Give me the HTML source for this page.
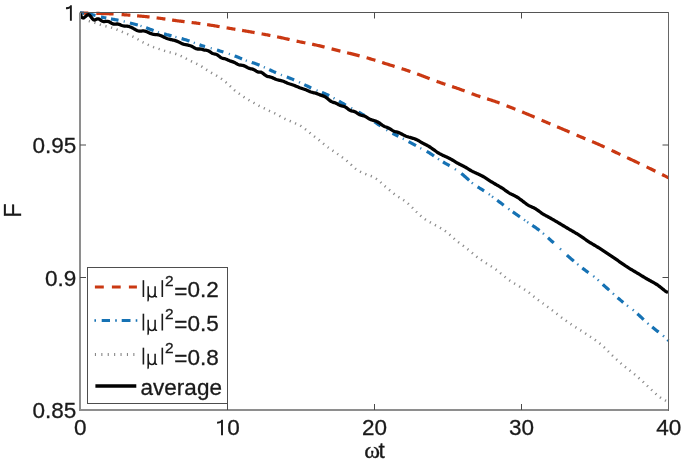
<!DOCTYPE html>
<html><head><meta charset="utf-8"><style>
html,body{margin:0;padding:0;background:#fff;}
svg{display:block;will-change:transform;}
text{font-family:"Liberation Sans",sans-serif;font-size:22.5px;fill:#1a1a1a;stroke:#1a1a1a;stroke-width:0.3px;}
</style></head><body>
<svg width="685" height="461" viewBox="0 0 685 461"><g style="opacity:0.995">
<rect width="685" height="461" fill="#fff"/>
<defs><clipPath id="c"><rect x="79.0" y="11.0" width="590.5" height="400.5"/></clipPath></defs>
<g clip-path="url(#c)">
<path d="M80.00,13.00 L80.92,13.02 L81.84,13.04 L82.77,13.07 L83.69,13.09 L84.61,13.11 L85.53,13.13 L86.46,13.15 L87.38,13.18 L88.30,13.20 M96.30,13.39 L97.26,13.42 L98.22,13.44 L99.18,13.46 L100.14,13.49 L101.11,13.51 L102.07,13.53 L103.03,13.56 L103.99,13.58 L104.95,13.61 L105.91,13.64 L106.87,13.67 L107.83,13.71 L108.79,13.74 L109.76,13.78 L110.72,13.82 L111.68,13.87 L112.64,13.92 L113.60,13.97 M121.60,14.55 L122.58,14.63 L123.56,14.71 L124.53,14.79 L125.51,14.87 L126.49,14.95 L127.47,15.03 L128.44,15.11 L129.42,15.19 L130.40,15.26 M137.10,15.81 L138.06,15.89 L139.02,15.98 L139.98,16.06 L140.95,16.15 L141.91,16.24 L142.87,16.33 L143.83,16.42 L144.79,16.52 L145.75,16.61 L146.72,16.71 L147.68,16.81 L148.64,16.92 L149.60,17.02 M156.60,17.86 L157.58,17.99 L158.56,18.12 L159.53,18.25 L160.51,18.39 L161.49,18.52 L162.47,18.66 L163.44,18.80 L164.42,18.94 L165.40,19.08 M172.10,20.06 L173.06,20.19 L174.02,20.33 L174.98,20.46 L175.95,20.59 L176.91,20.72 L177.87,20.85 L178.83,20.97 L179.79,21.09 L180.75,21.21 L181.72,21.33 L182.68,21.44 L183.64,21.56 L184.60,21.67 M191.60,22.48 L192.58,22.60 L193.56,22.72 L194.53,22.84 L195.51,22.96 L196.49,23.09 L197.47,23.22 L198.44,23.35 L199.42,23.48 L200.40,23.62 M207.10,24.61 L208.06,24.76 L209.02,24.91 L209.98,25.07 L210.95,25.22 L211.91,25.37 L212.87,25.53 L213.83,25.69 L214.79,25.84 L215.75,26.00 L216.72,26.16 L217.68,26.32 L218.64,26.48 L219.60,26.64 M226.60,27.82 L227.58,27.98 L228.56,28.15 L229.53,28.32 L230.51,28.48 L231.49,28.65 L232.47,28.81 L233.44,28.98 L234.42,29.14 L235.40,29.31 M242.10,30.45 L243.06,30.61 L244.02,30.77 L244.98,30.94 L245.95,31.10 L246.91,31.27 L247.87,31.43 L248.83,31.60 L249.79,31.76 L250.75,31.93 L251.72,32.09 L252.68,32.26 L253.64,32.43 L254.60,32.60 M261.60,33.85 L262.58,34.02 L263.56,34.20 L264.53,34.38 L265.51,34.57 L266.49,34.75 L267.47,34.93 L268.44,35.12 L269.42,35.31 L270.40,35.50 M277.10,36.84 L278.06,37.04 L279.02,37.24 L279.98,37.44 L280.95,37.64 L281.91,37.85 L282.87,38.06 L283.83,38.27 L284.79,38.48 L285.75,38.70 L286.72,38.91 L287.68,39.13 L288.64,39.34 L289.60,39.56 M296.60,41.13 L297.58,41.34 L298.56,41.55 L299.53,41.75 L300.51,41.96 L301.49,42.16 L302.47,42.36 L303.44,42.55 L304.42,42.74 L305.40,42.93 M312.10,44.24 L313.06,44.44 L314.02,44.63 L314.98,44.83 L315.95,45.03 L316.91,45.24 L317.87,45.45 L318.83,45.67 L319.79,45.89 L320.75,46.12 L321.72,46.35 L322.68,46.59 L323.64,46.83 L324.60,47.07 M331.60,48.88 L332.58,49.13 L333.56,49.39 L334.53,49.64 L335.51,49.89 L336.49,50.14 L337.47,50.38 L338.44,50.62 L339.42,50.87 L340.40,51.10 M347.10,52.72 L348.06,52.95 L349.02,53.19 L349.98,53.42 L350.95,53.66 L351.91,53.89 L352.87,54.13 L353.83,54.37 L354.79,54.61 L355.75,54.85 L356.72,55.10 L357.68,55.35 L358.64,55.60 L359.60,55.85 M366.60,57.77 L367.58,58.05 L368.56,58.33 L369.53,58.61 L370.51,58.90 L371.49,59.19 L372.47,59.49 L373.44,59.79 L374.42,60.09 L375.40,60.39 M382.10,62.50 L383.06,62.81 L384.02,63.12 L384.98,63.42 L385.95,63.73 L386.91,64.03 L387.87,64.34 L388.83,64.64 L389.79,64.94 L390.75,65.24 L391.72,65.54 L392.68,65.84 L393.64,66.13 L394.60,66.43 M401.60,68.62 L402.58,68.94 L403.56,69.25 L404.53,69.57 L405.51,69.89 L406.49,70.21 L407.47,70.54 L408.44,70.87 L409.42,71.20 L410.40,71.54 M417.10,73.91 L418.06,74.26 L419.02,74.62 L419.98,74.97 L420.95,75.33 L421.91,75.69 L422.87,76.06 L423.83,76.42 L424.79,76.79 L425.75,77.16 L426.72,77.53 L427.68,77.90 L428.64,78.27 L429.60,78.64 M436.60,81.30 L437.58,81.66 L438.56,82.01 L439.53,82.36 L440.51,82.71 L441.49,83.05 L442.47,83.38 L443.44,83.71 L444.42,84.04 L445.40,84.36 M452.10,86.54 L453.06,86.86 L454.02,87.18 L454.98,87.50 L455.95,87.83 L456.91,88.16 L457.87,88.49 L458.83,88.83 L459.79,89.18 L460.75,89.53 L461.72,89.89 L462.68,90.25 L463.64,90.61 L464.60,90.98 M471.60,93.63 L472.58,94.00 L473.56,94.35 L474.53,94.70 L475.51,95.05 L476.49,95.39 L477.47,95.72 L478.44,96.05 L479.42,96.37 L480.40,96.69 M487.10,98.81 L488.06,99.11 L489.02,99.42 L489.98,99.73 L490.95,100.04 L491.91,100.36 L492.87,100.68 L493.83,101.01 L494.79,101.34 L495.75,101.68 L496.72,102.02 L497.68,102.37 L498.64,102.72 L499.60,103.08 M506.60,105.77 L507.58,106.16 L508.56,106.54 L509.53,106.93 L510.51,107.32 L511.49,107.71 L512.47,108.09 L513.44,108.48 L514.42,108.87 L515.40,109.25 M522.10,111.93 L523.06,112.32 L524.02,112.71 L524.98,113.11 L525.95,113.50 L526.91,113.90 L527.87,114.30 L528.83,114.70 L529.79,115.11 L530.75,115.51 L531.72,115.92 L532.68,116.33 L533.64,116.74 L534.60,117.16 M541.60,120.18 L542.58,120.61 L543.56,121.03 L544.53,121.45 L545.51,121.87 L546.49,122.29 L547.47,122.70 L548.44,123.12 L549.42,123.53 L550.40,123.94 M557.10,126.76 L558.06,127.16 L559.02,127.57 L559.98,127.97 L560.95,128.38 L561.91,128.79 L562.87,129.19 L563.83,129.60 L564.79,130.02 L565.75,130.43 L566.72,130.84 L567.68,131.25 L568.64,131.67 L569.60,132.08 M576.60,135.10 L577.58,135.52 L578.56,135.94 L579.53,136.35 L580.51,136.76 L581.49,137.17 L582.47,137.58 L583.44,137.99 L584.42,138.40 L585.40,138.80 M592.10,141.59 L593.06,141.99 L594.02,142.40 L594.98,142.81 L595.95,143.22 L596.91,143.64 L597.87,144.06 L598.83,144.48 L599.79,144.91 L600.75,145.34 L601.72,145.78 L602.68,146.22 L603.64,146.66 L604.60,147.10 M611.60,150.39 L612.58,150.86 L613.56,151.32 L614.53,151.78 L615.51,152.25 L616.49,152.71 L617.47,153.17 L618.44,153.63 L619.42,154.08 L620.40,154.54 M627.10,157.66 L628.06,158.11 L629.02,158.56 L629.98,159.01 L630.95,159.46 L631.91,159.91 L632.87,160.36 L633.83,160.81 L634.79,161.26 L635.75,161.72 L636.72,162.17 L637.68,162.63 L638.64,163.08 L639.60,163.54 M646.60,166.91 L647.58,167.38 L648.56,167.86 L649.53,168.33 L650.51,168.81 L651.49,169.29 L652.47,169.77 L653.44,170.25 L654.42,170.73 L655.40,171.22 M662.10,174.55 L663.01,175.01 L663.93,175.47 L664.84,175.93 L665.76,176.40 L666.67,176.86 L667.59,177.32 L668.50,177.79" stroke="#CA3812" stroke-width="3.2" fill="none"/>
<path d="M80.00,12.75 L81.00,12.87 L82.00,12.99 L83.00,13.12 L84.00,13.25 M88.00,13.86 L88.94,14.03 L89.88,14.22 L90.81,14.41 L91.75,14.62 L92.69,14.83 L93.62,15.06 L94.56,15.28 L95.50,15.52 M101.00,16.90 L101.88,17.12 L102.77,17.32 L103.65,17.52 L104.53,17.72 L105.42,17.90 L106.30,18.08 M111.00,18.95 L111.94,19.11 L112.88,19.27 L113.81,19.43 L114.75,19.60 L115.69,19.76 L116.62,19.93 L117.56,20.10 L118.50,20.28 M129.90,22.96 L130.89,23.23 L131.88,23.50 L132.86,23.77 L133.85,24.03 L134.84,24.29 L135.83,24.55 L136.81,24.81 L137.80,25.07 M146.10,27.74 L147.04,28.09 L147.97,28.45 L148.91,28.80 L149.85,29.16 L150.79,29.51 L151.72,29.86 L152.66,30.21 L153.60,30.56 M164.00,33.90 L164.94,34.16 L165.88,34.41 L166.81,34.67 L167.75,34.92 L168.69,35.17 L169.62,35.42 L170.56,35.66 L171.50,35.91 M181.60,38.60 L182.59,38.88 L183.57,39.17 L184.56,39.47 L185.55,39.77 L186.54,40.09 L187.53,40.42 L188.51,40.75 L189.50,41.09 M199.50,44.81 L200.42,45.13 L201.33,45.45 L202.25,45.76 L203.17,46.05 L204.08,46.33 L205.00,46.60 M217.00,50.05 L217.91,50.33 L218.83,50.62 L219.74,50.91 L220.66,51.20 L221.57,51.49 L222.49,51.78 L223.40,52.07 M234.60,55.89 L235.53,56.24 L236.45,56.60 L237.38,56.97 L238.30,57.34 L239.22,57.73 L240.15,58.12 L241.07,58.52 L242.00,58.91 M251.70,62.41 L252.67,62.72 L253.65,63.03 L254.62,63.35 L255.60,63.68 L256.57,64.03 L257.55,64.40 L258.52,64.78 L259.50,65.18 M269.20,69.59 L270.17,70.05 L271.14,70.51 L272.11,70.96 L273.09,71.41 L274.06,71.86 L275.03,72.30 L276.00,72.73 M286.80,77.01 L287.71,77.35 L288.62,77.69 L289.54,78.04 L290.45,78.39 L291.36,78.76 L292.28,79.14 L293.19,79.53 L294.10,79.92 M304.30,84.66 L305.29,85.13 L306.27,85.60 L307.26,86.07 L308.24,86.55 L309.23,87.02 L310.21,87.49 L311.20,87.95 M321.90,92.47 L322.81,92.83 L323.72,93.20 L324.64,93.58 L325.55,93.97 L326.46,94.37 L327.38,94.79 L328.29,95.23 L329.20,95.68 M338.90,101.12 L339.89,101.71 L340.87,102.29 L341.86,102.87 L342.84,103.43 L343.83,103.99 L344.81,104.54 L345.80,105.09 M358.50,112.06 L359.50,112.63 L360.50,113.20 L361.50,113.78 L362.50,114.36 L363.50,114.95 L364.50,115.54 M374.50,121.83 L375.50,122.50 L376.50,123.18 L377.50,123.87 L378.50,124.57 L379.50,125.27 L380.50,125.97 M392.50,133.28 L393.48,133.78 L394.47,134.27 L395.45,134.77 L396.43,135.26 L397.42,135.76 L398.40,136.26 M408.60,141.57 L409.53,142.07 L410.45,142.57 L411.38,143.08 L412.30,143.60 L413.23,144.12 L414.15,144.64 L415.07,145.17 L416.00,145.70 M426.70,151.44 L427.61,151.94 L428.52,152.45 L429.44,152.99 L430.35,153.55 L431.26,154.14 L432.18,154.75 L433.09,155.38 L434.00,156.02 M443.00,161.96 L443.94,162.50 L444.89,163.05 L445.83,163.58 L446.77,164.12 L447.71,164.66 L448.66,165.20 L449.60,165.75 M461.30,173.53 L462.28,174.30 L463.25,175.10 L464.23,175.92 L465.20,176.76 L466.18,177.63 L467.15,178.52 L468.12,179.42 L469.10,180.31 M477.60,186.86 L478.53,187.44 L479.46,188.01 L480.39,188.58 L481.31,189.14 L482.24,189.71 L483.17,190.29 L484.10,190.87 M497.20,200.28 L498.13,200.97 L499.06,201.67 L499.99,202.37 L500.91,203.07 L501.84,203.77 L502.77,204.47 L503.70,205.17 M512.80,211.86 L513.69,212.49 L514.57,213.12 L515.46,213.75 L516.35,214.37 L517.24,214.99 L518.12,215.61 L519.01,216.22 L519.90,216.84 M532.30,225.34 L533.20,225.95 L534.10,226.56 L535.00,227.18 L535.90,227.81 L536.80,228.46 L537.70,229.13 L538.60,229.81 L539.50,230.50 M548.00,237.75 L548.95,238.61 L549.90,239.47 L550.85,240.34 L551.80,241.20 L552.75,242.06 L553.70,242.91 M566.90,255.09 L567.89,256.00 L568.87,256.89 L569.86,257.77 L570.84,258.64 L571.83,259.49 L572.81,260.32 L573.80,261.14 M582.30,268.00 L583.19,268.69 L584.07,269.37 L584.96,270.04 L585.84,270.69 L586.73,271.34 L587.61,271.97 L588.50,272.60 M602.80,284.41 L603.71,285.25 L604.63,286.08 L605.54,286.91 L606.46,287.72 L607.37,288.53 L608.29,289.35 L609.20,290.17 M617.60,297.67 L618.55,298.49 L619.50,299.30 L620.45,300.10 L621.40,300.90 L622.35,301.69 L623.30,302.47 M637.40,313.71 L638.30,314.55 L639.20,315.40 L640.10,316.25 L641.00,317.10 L641.90,317.96 L642.80,318.81 L643.70,319.65 M652.20,327.09 L653.11,327.82 L654.03,328.55 L654.94,329.26 L655.86,329.97 L656.77,330.67 L657.69,331.37 L658.60,332.07 M667.50,339.60 L668.50,340.53" stroke="#1672B4" stroke-width="3.2" fill="none"/>
<path d="M123.65,21.35 L124.20,21.48 L124.75,21.61 M140.45,25.82 L140.82,25.93 L141.18,26.04 L141.55,26.16 M157.85,32.05 L158.22,32.17 L158.58,32.29 L158.95,32.41 M175.35,36.92 L175.72,37.02 L176.08,37.12 L176.45,37.21 M193.75,42.64 L194.12,42.78 L194.48,42.92 L194.85,43.06 M210.65,48.16 L211.02,48.26 L211.38,48.36 L211.75,48.47 M228.75,53.81 L229.12,53.94 L229.48,54.06 L229.85,54.19 M245.75,60.44 L246.12,60.57 L246.48,60.71 L246.85,60.84 M263.75,67.04 L264.12,67.21 L264.48,67.38 L264.85,67.55 M280.85,74.78 L281.22,74.92 L281.58,75.07 L281.95,75.21 M298.95,82.12 L299.32,82.29 L299.68,82.46 L300.05,82.64 M316.45,90.31 L316.82,90.46 L317.18,90.61 L317.55,90.76 M333.45,97.94 L333.82,98.15 L334.18,98.36 L334.55,98.57 M351.05,107.94 L351.42,108.14 L351.78,108.34 L352.15,108.54 M368.45,117.94 L368.82,118.17 L369.18,118.40 L369.55,118.63 M386.35,129.88 L386.72,130.10 L387.08,130.32 L387.45,130.54 M402.75,138.49 L403.12,138.68 L403.48,138.87 L403.85,139.07 M420.25,148.08 L420.62,148.27 L420.98,148.47 L421.35,148.66 M437.95,158.80 L438.32,159.05 L438.68,159.29 L439.05,159.53 M454.85,168.96 L455.22,169.20 L455.58,169.44 L455.95,169.68 M471.75,182.64 L472.12,182.95 L472.48,183.24 L472.85,183.54 M488.75,193.95 L489.12,194.21 L489.48,194.48 L489.85,194.75 M492.05,196.40 L492.42,196.68 L492.78,196.95 L493.15,197.23 M508.35,208.65 L508.72,208.92 L509.08,209.18 L509.45,209.45 M523.95,219.66 L524.50,220.04 L525.05,220.43 M527.15,221.89 L527.70,222.26 L528.25,222.64 M542.85,233.22 L543.40,233.68 L543.95,234.15 M559.95,248.60 L560.50,249.11 L561.05,249.62 M577.25,263.96 L577.80,264.40 L578.35,264.85 M593.25,276.02 L593.80,276.44 L594.35,276.87 M597.65,279.61 L598.20,280.10 L598.75,280.60 M612.85,293.47 L613.40,293.97 L613.95,294.46 M626.95,305.35 L627.50,305.76 L628.05,306.17 M632.65,309.61 L633.20,310.05 L633.75,310.50 M647.45,323.08 L648.00,323.57 L648.55,324.05 M662.95,335.54 L663.50,336.01 L664.05,336.48" stroke="#1672B4" stroke-width="2.4" fill="none" opacity="0.85"/>
<path d="M80.00,13.66 L80.75,14.55 L81.50,15.44 L82.25,16.29 L83.00,17.11 L83.75,17.87 L84.50,18.56 L85.25,19.16 L86.00,19.68 L86.75,20.10 L87.50,20.46 L88.25,20.76 L89.00,21.01 L89.75,21.23 L90.50,21.44 L91.25,21.64 L92.00,21.85 L92.75,22.07 L93.50,22.30 L94.25,22.54 L95.00,22.79 L95.75,23.05 L96.50,23.32 L97.25,23.60 L98.00,23.88 L98.75,24.15 L99.50,24.43 L100.25,24.70 L101.00,24.96 L101.75,25.21 L102.50,25.44 L103.25,25.66 L104.00,25.85 L104.75,26.03 L105.50,26.20 L106.25,26.35 L107.00,26.51 L107.75,26.66 L108.50,26.82 L109.25,26.99 L110.00,27.18 L110.75,27.37 L111.50,27.59 L112.25,27.81 L113.00,28.05 L113.75,28.31 L114.50,28.58 L115.25,28.87 L116.00,29.17 L116.75,29.49 L117.50,29.81 L118.25,30.14 L119.00,30.47 L119.75,30.80 L120.50,31.13 L121.25,31.45 L122.00,31.76 L122.75,32.07 L123.50,32.38 L124.25,32.68 L125.00,32.99 L125.75,33.31 L126.50,33.63 L127.25,33.97 L128.00,34.31 L128.75,34.66 L129.50,35.02 L130.25,35.38 L131.00,35.74 L131.75,36.11 L132.50,36.47 L133.25,36.84 L134.00,37.22 L134.75,37.60 L135.50,38.00 L136.25,38.41 L137.00,38.84 L137.75,39.29 L138.50,39.76 L139.25,40.22 L140.00,40.67 L140.75,41.11 L141.50,41.53 L142.25,41.94 L143.00,42.33 L143.75,42.71 L144.50,43.08 L145.25,43.44 L146.00,43.81 L146.75,44.18 L147.50,44.54 L148.25,44.90 L149.00,45.25 L149.75,45.60 L150.50,45.93 L151.25,46.24 L152.00,46.54 L152.75,46.83 L153.50,47.11 L154.25,47.37 L155.00,47.64 L155.75,47.89 L156.50,48.14 L157.25,48.40 L158.00,48.65 L158.75,48.90 L159.50,49.15 L160.25,49.40 L161.00,49.65 L161.75,49.90 L162.50,50.14 L163.25,50.39 L164.00,50.63 L164.75,50.87 L165.50,51.10 L166.25,51.33 L167.00,51.55 L167.75,51.76 L168.50,51.97 L169.25,52.16 L170.00,52.36 L170.75,52.55 L171.50,52.73 L172.25,52.92 L173.00,53.12 L173.75,53.32 L174.50,53.54 L175.25,53.76 L176.00,54.00 L176.75,54.25 L177.50,54.52 L178.25,54.80 L179.00,55.09 L179.75,55.40 L180.50,55.73 L181.25,56.07 L182.00,56.44 L182.75,56.81 L183.50,57.20 L184.25,57.59 L185.00,57.99 L185.75,58.40 L186.50,58.80 L187.25,59.20 L188.00,59.60 L188.75,60.00 L189.50,60.39 L190.25,60.77 L191.00,61.14 L191.75,61.50 L192.50,61.84 L193.25,62.18 L194.00,62.52 L194.75,62.86 L195.50,63.20 L196.25,63.55 L197.00,63.91 L197.75,64.29 L198.50,64.69 L199.25,65.10 L200.00,65.53 L200.75,65.97 L201.50,66.42 L202.25,66.89 L203.00,67.38 L203.75,67.87 L204.50,68.37 L205.25,68.88 L206.00,69.38 L206.75,69.87 L207.50,70.35 L208.25,70.82 L209.00,71.28 L209.75,71.73 L210.50,72.18 L211.25,72.61 L212.00,73.05 L212.75,73.48 L213.50,73.91 L214.25,74.34 L215.00,74.77 L215.75,75.21 L216.50,75.66 L217.25,76.11 L218.00,76.58 L218.75,77.06 L219.50,77.55 L220.25,78.05 L221.00,78.57 L221.75,79.09 L222.50,79.64 L223.25,80.19 L224.00,80.77 L224.75,81.36 L225.50,81.97 L226.25,82.60 L227.00,83.25 L227.75,83.92 L228.50,84.60 L229.25,85.30 L230.00,86.00 L230.75,86.71 L231.50,87.43 L232.25,88.14 L233.00,88.84 L233.75,89.52 L234.50,90.18 L235.25,90.81 L236.00,91.40 L236.75,91.98 L237.50,92.53 L238.25,93.07 L239.00,93.60 L239.75,94.13 L240.50,94.66 L241.25,95.19 L242.00,95.72 L242.75,96.25 L243.50,96.76 L244.25,97.27 L245.00,97.76 L245.75,98.23 L246.50,98.68 L247.25,99.12 L248.00,99.55 L248.75,99.98 L249.50,100.40 L250.25,100.82 L251.00,101.24 L251.75,101.67 L252.50,102.11 L253.25,102.55 L254.00,102.99 L254.75,103.42 L255.50,103.86 L256.25,104.29 L257.00,104.72 L257.75,105.14 L258.50,105.55 L259.25,105.95 L260.00,106.34 L260.75,106.72 L261.50,107.09 L262.25,107.45 L263.00,107.79 L263.75,108.14 L264.50,108.49 L265.25,108.84 L266.00,109.20 L266.75,109.57 L267.50,109.94 L268.25,110.31 L269.00,110.68 L269.75,111.05 L270.50,111.40 L271.25,111.75 L272.00,112.10 L272.75,112.44 L273.50,112.78 L274.25,113.13 L275.00,113.49 L275.75,113.85 L276.50,114.22 L277.25,114.61 L278.00,115.00 L278.75,115.40 L279.50,115.81 L280.25,116.23 L281.00,116.66 L281.75,117.10 L282.50,117.53 L283.25,117.95 L284.00,118.37 L284.75,118.76 L285.50,119.13 L286.25,119.48 L287.00,119.80 L287.75,120.10 L288.50,120.40 L289.25,120.69 L290.00,120.99 L290.75,121.29 L291.50,121.61 L292.25,121.93 L293.00,122.27 L293.75,122.61 L294.50,122.95 L295.25,123.29 L296.00,123.62 L296.75,123.95 L297.50,124.28 L298.25,124.62 L299.00,124.98 L299.75,125.37 L300.50,125.80 L301.25,126.27 L302.00,126.78 L302.75,127.31 L303.50,127.87 L304.25,128.43 L305.00,129.00 L305.75,129.58 L306.50,130.16 L307.25,130.75 L308.00,131.35 L308.75,131.96 L309.50,132.58 L310.25,133.20 L311.00,133.83 L311.75,134.45 L312.50,135.06 L313.25,135.66 L314.00,136.23 L314.75,136.79 L315.50,137.34 L316.25,137.89 L317.00,138.45 L317.75,139.03 L318.50,139.63 L319.25,140.24 L320.00,140.86 L320.75,141.49 L321.50,142.12 L322.25,142.75 L323.00,143.38 L323.75,144.01 L324.50,144.63 L325.25,145.25 L326.00,145.85 L326.75,146.45 L327.50,147.03 L328.25,147.60 L329.00,148.15 L329.75,148.68 L330.50,149.20 L331.25,149.69 L332.00,150.18 L332.75,150.65 L333.50,151.13 L334.25,151.61 L335.00,152.09 L335.75,152.59 L336.50,153.11 L337.25,153.64 L338.00,154.18 L338.75,154.73 L339.50,155.28 L340.25,155.83 L341.00,156.39 L341.75,156.94 L342.50,157.50 L343.25,158.06 L344.00,158.63 L344.75,159.20 L345.50,159.79 L346.25,160.38 L347.00,160.99 L347.75,161.62 L348.50,162.26 L349.25,162.92 L350.00,163.61 L350.75,164.31 L351.50,165.03 L352.25,165.76 L353.00,166.47 L353.75,167.16 L354.50,167.82 L355.25,168.45 L356.00,169.03 L356.75,169.57 L357.50,170.06 L358.25,170.52 L359.00,170.94 L359.75,171.35 L360.50,171.74 L361.25,172.11 L362.00,172.48 L362.75,172.83 L363.50,173.17 L364.25,173.50 L365.00,173.82 L365.75,174.12 L366.50,174.41 L367.25,174.68 L368.00,174.95 L368.75,175.21 L369.50,175.48 L370.25,175.75 L371.00,176.03 L371.75,176.33 L372.50,176.64 L373.25,176.98 L374.00,177.35 L374.75,177.75 L375.50,178.20 L376.25,178.69 L377.00,179.22 L377.75,179.79 L378.50,180.39 L379.25,181.02 L380.00,181.68 L380.75,182.36 L381.50,183.05 L382.25,183.74 L383.00,184.44 L383.75,185.13 L384.50,185.81 L385.25,186.47 L386.00,187.12 L386.75,187.77 L387.50,188.41 L388.25,189.04 L389.00,189.68 L389.75,190.31 L390.50,190.94 L391.25,191.56 L392.00,192.19 L392.75,192.81 L393.50,193.42 L394.25,194.01 L395.00,194.59 L395.75,195.14 L396.50,195.67 L397.25,196.17 L398.00,196.64 L398.75,197.10 L399.50,197.56 L400.25,198.00 L401.00,198.46 L401.75,198.92 L402.50,199.40 L403.25,199.90 L404.00,200.41 L404.75,200.94 L405.50,201.49 L406.25,202.06 L407.00,202.66 L407.75,203.29 L408.50,203.94 L409.25,204.61 L410.00,205.31 L410.75,206.04 L411.50,206.79 L412.25,207.56 L413.00,208.35 L413.75,209.13 L414.50,209.92 L415.25,210.70 L416.00,211.48 L416.75,212.24 L417.50,212.98 L418.25,213.69 L419.00,214.38 L419.75,215.05 L420.50,215.68 L421.25,216.30 L422.00,216.91 L422.75,217.50 L423.50,218.08 L424.25,218.64 L425.00,219.18 L425.75,219.71 L426.50,220.20 L427.25,220.67 L428.00,221.12 L428.75,221.55 L429.50,221.96 L430.25,222.37 L431.00,222.77 L431.75,223.18 L432.50,223.59 L433.25,224.01 L434.00,224.43 L434.75,224.86 L435.50,225.29 L436.25,225.71 L437.00,226.13 L437.75,226.55 L438.50,226.96 L439.25,227.36 L440.00,227.77 L440.75,228.19 L441.50,228.62 L442.25,229.06 L443.00,229.52 L443.75,230.00 L444.50,230.51 L445.25,231.03 L446.00,231.58 L446.75,232.15 L447.50,232.75 L448.25,233.37 L449.00,234.01 L449.75,234.68 L450.50,235.35 L451.25,236.04 L452.00,236.73 L452.75,237.42 L453.50,238.12 L454.25,238.80 L455.00,239.47 L455.75,240.13 L456.50,240.76 L457.25,241.37 L458.00,241.95 L458.75,242.52 L459.50,243.08 L460.25,243.62 L461.00,244.16 L461.75,244.70 L462.50,245.23 L463.25,245.77 L464.00,246.31 L464.75,246.86 L465.50,247.42 L466.25,248.00 L467.00,248.58 L467.75,249.18 L468.50,249.79 L469.25,250.42 L470.00,251.05 L470.75,251.69 L471.50,252.33 L472.25,252.98 L473.00,253.62 L473.75,254.26 L474.50,254.89 L475.25,255.51 L476.00,256.12 L476.75,256.70 L477.50,257.27 L478.25,257.82 L479.00,258.36 L479.75,258.89 L480.50,259.41 L481.25,259.93 L482.00,260.44 L482.75,260.95 L483.50,261.46 L484.25,261.96 L485.00,262.45 L485.75,262.94 L486.50,263.43 L487.25,263.91 L488.00,264.38 L488.75,264.85 L489.50,265.32 L490.25,265.79 L491.00,266.26 L491.75,266.74 L492.50,267.22 L493.25,267.70 L494.00,268.20 L494.75,268.70 L495.50,269.22 L496.25,269.76 L497.00,270.32 L497.75,270.90 L498.50,271.50 L499.25,272.12 L500.00,272.75 L500.75,273.38 L501.50,274.02 L502.25,274.65 L503.00,275.28 L503.75,275.90 L504.50,276.52 L505.25,277.13 L506.00,277.73 L506.75,278.33 L507.50,278.91 L508.25,279.48 L509.00,280.03 L509.75,280.57 L510.50,281.09 L511.25,281.59 L512.00,282.07 L512.75,282.53 L513.50,282.98 L514.25,283.41 L515.00,283.84 L515.75,284.27 L516.50,284.70 L517.25,285.13 L518.00,285.58 L518.75,286.02 L519.50,286.47 L520.25,286.92 L521.00,287.36 L521.75,287.81 L522.50,288.25 L523.25,288.70 L524.00,289.15 L524.75,289.62 L525.50,290.10 L526.25,290.60 L527.00,291.13 L527.75,291.68 L528.50,292.26 L529.25,292.85 L530.00,293.45 L530.75,294.07 L531.50,294.68 L532.25,295.29 L533.00,295.90 L533.75,296.50 L534.50,297.10 L535.25,297.69 L536.00,298.27 L536.75,298.84 L537.50,299.41 L538.25,299.96 L539.00,300.52 L539.75,301.07 L540.50,301.61 L541.25,302.16 L542.00,302.71 L542.75,303.25 L543.50,303.80 L544.25,304.35 L545.00,304.90 L545.75,305.46 L546.50,306.02 L547.25,306.58 L548.00,307.15 L548.75,307.72 L549.50,308.29 L550.25,308.86 L551.00,309.43 L551.75,309.99 L552.50,310.55 L553.25,311.11 L554.00,311.66 L554.75,312.22 L555.50,312.79 L556.25,313.36 L557.00,313.95 L557.75,314.54 L558.50,315.13 L559.25,315.73 L560.00,316.32 L560.75,316.91 L561.50,317.48 L562.25,318.04 L563.00,318.58 L563.75,319.11 L564.50,319.63 L565.25,320.15 L566.00,320.66 L566.75,321.18 L567.50,321.69 L568.25,322.22 L569.00,322.76 L569.75,323.30 L570.50,323.85 L571.25,324.39 L572.00,324.92 L572.75,325.44 L573.50,325.96 L574.25,326.45 L575.00,326.94 L575.75,327.41 L576.50,327.88 L577.25,328.34 L578.00,328.79 L578.75,329.25 L579.50,329.70 L580.25,330.15 L581.00,330.61 L581.75,331.07 L582.50,331.54 L583.25,332.01 L584.00,332.49 L584.75,332.97 L585.50,333.46 L586.25,333.95 L587.00,334.45 L587.75,334.94 L588.50,335.43 L589.25,335.92 L590.00,336.42 L590.75,336.92 L591.50,337.42 L592.25,337.93 L593.00,338.44 L593.75,338.97 L594.50,339.50 L595.25,340.05 L596.00,340.60 L596.75,341.15 L597.50,341.71 L598.25,342.28 L599.00,342.85 L599.75,343.43 L600.50,344.02 L601.25,344.64 L602.00,345.27 L602.75,345.93 L603.50,346.62 L604.25,347.34 L605.00,348.08 L605.75,348.83 L606.50,349.59 L607.25,350.36 L608.00,351.12 L608.75,351.89 L609.50,352.65 L610.25,353.40 L611.00,354.14 L611.75,354.88 L612.50,355.61 L613.25,356.32 L614.00,357.04 L614.75,357.74 L615.50,358.45 L616.25,359.16 L617.00,359.86 L617.75,360.56 L618.50,361.25 L619.25,361.94 L620.00,362.62 L620.75,363.29 L621.50,363.95 L622.25,364.59 L623.00,365.23 L623.75,365.85 L624.50,366.46 L625.25,367.05 L626.00,367.63 L626.75,368.20 L627.50,368.77 L628.25,369.33 L629.00,369.89 L629.75,370.46 L630.50,371.03 L631.25,371.61 L632.00,372.20 L632.75,372.80 L633.50,373.42 L634.25,374.05 L635.00,374.70 L635.75,375.36 L636.50,376.02 L637.25,376.68 L638.00,377.34 L638.75,378.00 L639.50,378.65 L640.25,379.30 L641.00,379.96 L641.75,380.63 L642.50,381.30 L643.25,381.99 L644.00,382.69 L644.75,383.40 L645.50,384.11 L646.25,384.83 L647.00,385.55 L647.75,386.27 L648.50,386.99 L649.25,387.71 L650.00,388.43 L650.75,389.15 L651.50,389.86 L652.25,390.57 L653.00,391.27 L653.75,391.97 L654.50,392.65 L655.25,393.33 L656.00,394.00 L656.75,394.65 L657.50,395.29 L658.25,395.91 L659.00,396.51 L659.75,397.07 L660.50,397.61 L661.25,398.12 L662.00,398.60 L662.75,399.05 L663.50,399.49 L664.25,399.91 L665.00,400.31 L665.75,400.71 L666.50,401.09 L667.25,401.47 L668.00,401.85" stroke="#8c8c8c" stroke-width="2.5" fill="none" stroke-dasharray="1.2 4.6"/>
<path d="M80.00,13.50 L80.75,15.57 L81.50,16.92 L82.25,17.66 L83.00,17.91 L83.75,17.76 L84.50,17.33 L85.25,16.73 L86.00,16.06 L86.75,15.43 L87.50,14.95 L88.25,14.73 L89.00,14.88 L89.75,15.42 L90.50,16.25 L91.25,17.23 L92.00,18.23 L92.75,19.11 L93.50,19.76 L94.25,20.05 L95.00,19.94 L95.75,19.60 L96.50,19.18 L97.25,18.86 L98.00,18.78 L98.75,18.96 L99.50,19.33 L100.25,19.82 L101.00,20.36 L101.75,20.87 L102.50,21.28 L103.25,21.53 L104.00,21.61 L104.75,21.57 L105.50,21.48 L106.25,21.37 L107.00,21.32 L107.75,21.36 L108.50,21.54 L109.25,21.86 L110.00,22.28 L110.75,22.73 L111.50,23.19 L112.25,23.60 L113.00,23.91 L113.75,24.09 L114.50,24.14 L115.25,24.10 L116.00,24.03 L116.75,23.98 L117.50,23.98 L118.25,24.09 L119.00,24.30 L119.75,24.58 L120.50,24.89 L121.25,25.22 L122.00,25.52 L122.75,25.76 L123.50,25.93 L124.25,26.02 L125.00,26.07 L125.75,26.10 L126.50,26.13 L127.25,26.19 L128.00,26.31 L128.75,26.48 L129.50,26.70 L130.25,26.97 L131.00,27.27 L131.75,27.62 L132.50,28.00 L133.25,28.41 L134.00,28.83 L134.75,29.26 L135.50,29.68 L136.25,30.07 L137.00,30.43 L137.75,30.73 L138.50,30.97 L139.25,31.13 L140.00,31.20 L140.75,31.17 L141.50,31.08 L142.25,30.98 L143.00,30.91 L143.75,30.91 L144.50,31.02 L145.25,31.21 L146.00,31.46 L146.75,31.76 L147.50,32.10 L148.25,32.45 L149.00,32.79 L149.75,33.12 L150.50,33.42 L151.25,33.69 L152.00,33.94 L152.75,34.15 L153.50,34.31 L154.25,34.44 L155.00,34.52 L155.75,34.58 L156.50,34.64 L157.25,34.71 L158.00,34.82 L158.75,34.98 L159.50,35.20 L160.25,35.47 L161.00,35.78 L161.75,36.11 L162.50,36.46 L163.25,36.81 L164.00,37.16 L164.75,37.51 L165.50,37.84 L166.25,38.15 L167.00,38.45 L167.75,38.72 L168.50,38.96 L169.25,39.17 L170.00,39.36 L170.75,39.54 L171.50,39.70 L172.25,39.86 L173.00,40.03 L173.75,40.21 L174.50,40.40 L175.25,40.61 L176.00,40.84 L176.75,41.11 L177.50,41.41 L178.25,41.76 L179.00,42.13 L179.75,42.52 L180.50,42.90 L181.25,43.27 L182.00,43.60 L182.75,43.89 L183.50,44.13 L184.25,44.34 L185.00,44.52 L185.75,44.68 L186.50,44.84 L187.25,44.99 L188.00,45.15 L188.75,45.33 L189.50,45.53 L190.25,45.76 L191.00,46.02 L191.75,46.33 L192.50,46.70 L193.25,47.12 L194.00,47.56 L194.75,48.00 L195.50,48.40 L196.25,48.71 L197.00,48.92 L197.75,49.00 L198.50,49.01 L199.25,48.99 L200.00,49.00 L200.75,49.09 L201.50,49.24 L202.25,49.44 L203.00,49.65 L203.75,49.85 L204.50,50.03 L205.25,50.15 L206.00,50.23 L206.75,50.33 L207.50,50.50 L208.25,50.79 L209.00,51.20 L209.75,51.69 L210.50,52.20 L211.25,52.71 L212.00,53.17 L212.75,53.52 L213.50,53.75 L214.25,53.90 L215.00,54.03 L215.75,54.20 L216.50,54.46 L217.25,54.85 L218.00,55.36 L218.75,55.94 L219.50,56.54 L220.25,57.12 L221.00,57.62 L221.75,58.02 L222.50,58.28 L223.25,58.46 L224.00,58.60 L224.75,58.74 L225.50,58.93 L226.25,59.20 L227.00,59.53 L227.75,59.88 L228.50,60.24 L229.25,60.58 L230.00,60.87 L230.75,61.12 L231.50,61.36 L232.25,61.59 L233.00,61.85 L233.75,62.14 L234.50,62.49 L235.25,62.89 L236.00,63.32 L236.75,63.75 L237.50,64.16 L238.25,64.52 L239.00,64.80 L239.75,65.00 L240.50,65.12 L241.25,65.21 L242.00,65.30 L242.75,65.41 L243.50,65.58 L244.25,65.83 L245.00,66.17 L245.75,66.57 L246.50,67.01 L247.25,67.44 L248.00,67.84 L248.75,68.18 L249.50,68.44 L250.25,68.64 L251.00,68.80 L251.75,68.96 L252.50,69.15 L253.25,69.41 L254.00,69.75 L254.75,70.18 L255.50,70.66 L256.25,71.14 L257.00,71.57 L257.75,71.90 L258.50,72.10 L259.25,72.14 L260.00,72.12 L260.75,72.17 L261.50,72.41 L262.25,72.83 L263.00,73.38 L263.75,74.00 L264.50,74.63 L265.25,75.22 L266.00,75.72 L266.75,76.09 L267.50,76.36 L268.25,76.56 L269.00,76.72 L269.75,76.87 L270.50,77.05 L271.25,77.27 L272.00,77.55 L272.75,77.87 L273.50,78.20 L274.25,78.55 L275.00,78.89 L275.75,79.21 L276.50,79.50 L277.25,79.74 L278.00,79.95 L278.75,80.12 L279.50,80.29 L280.25,80.45 L281.00,80.62 L281.75,80.81 L282.50,81.03 L283.25,81.29 L284.00,81.59 L284.75,81.90 L285.50,82.23 L286.25,82.57 L287.00,82.90 L287.75,83.22 L288.50,83.52 L289.25,83.79 L290.00,84.05 L290.75,84.29 L291.50,84.53 L292.25,84.77 L293.00,85.02 L293.75,85.27 L294.50,85.55 L295.25,85.84 L296.00,86.15 L296.75,86.47 L297.50,86.79 L298.25,87.10 L299.00,87.41 L299.75,87.71 L300.50,87.98 L301.25,88.24 L302.00,88.49 L302.75,88.74 L303.50,88.98 L304.25,89.23 L305.00,89.50 L305.75,89.78 L306.50,90.08 L307.25,90.41 L308.00,90.74 L308.75,91.06 L309.50,91.39 L310.25,91.69 L311.00,91.97 L311.75,92.22 L312.50,92.42 L313.25,92.61 L314.00,92.78 L314.75,92.96 L315.50,93.15 L316.25,93.38 L317.00,93.65 L317.75,93.94 L318.50,94.25 L319.25,94.56 L320.00,94.86 L320.75,95.15 L321.50,95.40 L322.25,95.64 L323.00,95.88 L323.75,96.15 L324.50,96.47 L325.25,96.86 L326.00,97.34 L326.75,97.91 L327.50,98.55 L328.25,99.22 L329.00,99.88 L329.75,100.50 L330.50,101.04 L331.25,101.47 L332.00,101.80 L332.75,102.08 L333.50,102.32 L334.25,102.55 L335.00,102.80 L335.75,103.11 L336.50,103.48 L337.25,103.89 L338.00,104.31 L338.75,104.73 L339.50,105.11 L340.25,105.44 L341.00,105.70 L341.75,105.89 L342.50,106.06 L343.25,106.24 L344.00,106.45 L344.75,106.73 L345.50,107.11 L346.25,107.60 L347.00,108.17 L347.75,108.76 L348.50,109.35 L349.25,109.90 L350.00,110.35 L350.75,110.68 L351.50,110.91 L352.25,111.08 L353.00,111.23 L353.75,111.39 L354.50,111.61 L355.25,111.91 L356.00,112.32 L356.75,112.80 L357.50,113.32 L358.25,113.83 L359.00,114.31 L359.75,114.73 L360.50,115.04 L361.25,115.28 L362.00,115.45 L362.75,115.61 L363.50,115.78 L364.25,116.00 L365.00,116.29 L365.75,116.66 L366.50,117.11 L367.25,117.59 L368.00,118.08 L368.75,118.56 L369.50,118.99 L370.25,119.36 L371.00,119.66 L371.75,119.92 L372.50,120.14 L373.25,120.35 L374.00,120.55 L374.75,120.78 L375.50,121.03 L376.25,121.32 L377.00,121.65 L377.75,122.03 L378.50,122.45 L379.25,122.93 L380.00,123.46 L380.75,124.01 L381.50,124.57 L382.25,125.12 L383.00,125.62 L383.75,126.07 L384.50,126.45 L385.25,126.77 L386.00,127.05 L386.75,127.32 L387.50,127.61 L388.25,127.93 L389.00,128.31 L389.75,128.75 L390.50,129.22 L391.25,129.71 L392.00,130.18 L392.75,130.62 L393.50,131.00 L394.25,131.31 L395.00,131.55 L395.75,131.76 L396.50,131.95 L397.25,132.15 L398.00,132.37 L398.75,132.63 L399.50,132.95 L400.25,133.30 L401.00,133.68 L401.75,134.08 L402.50,134.48 L403.25,134.87 L404.00,135.25 L404.75,135.60 L405.50,135.93 L406.25,136.24 L407.00,136.52 L407.75,136.78 L408.50,137.03 L409.25,137.25 L410.00,137.46 L410.75,137.66 L411.50,137.87 L412.25,138.08 L413.00,138.30 L413.75,138.54 L414.50,138.80 L415.25,139.08 L416.00,139.39 L416.75,139.72 L417.50,140.09 L418.25,140.49 L419.00,140.92 L419.75,141.37 L420.50,141.83 L421.25,142.29 L422.00,142.74 L422.75,143.17 L423.50,143.58 L424.25,143.96 L425.00,144.33 L425.75,144.70 L426.50,145.07 L427.25,145.46 L428.00,145.87 L428.75,146.30 L429.50,146.77 L430.25,147.25 L431.00,147.75 L431.75,148.27 L432.50,148.80 L433.25,149.34 L434.00,149.89 L434.75,150.43 L435.50,150.97 L436.25,151.51 L437.00,152.02 L437.75,152.52 L438.50,153.00 L439.25,153.45 L440.00,153.87 L440.75,154.27 L441.50,154.66 L442.25,155.03 L443.00,155.38 L443.75,155.73 L444.50,156.07 L445.25,156.41 L446.00,156.75 L446.75,157.10 L447.50,157.45 L448.25,157.81 L449.00,158.17 L449.75,158.55 L450.50,158.95 L451.25,159.36 L452.00,159.79 L452.75,160.23 L453.50,160.69 L454.25,161.15 L455.00,161.62 L455.75,162.08 L456.50,162.54 L457.25,162.98 L458.00,163.40 L458.75,163.80 L459.50,164.19 L460.25,164.56 L461.00,164.93 L461.75,165.29 L462.50,165.66 L463.25,166.04 L464.00,166.43 L464.75,166.84 L465.50,167.27 L466.25,167.72 L467.00,168.18 L467.75,168.64 L468.50,169.11 L469.25,169.57 L470.00,170.02 L470.75,170.46 L471.50,170.88 L472.25,171.27 L473.00,171.66 L473.75,172.02 L474.50,172.38 L475.25,172.73 L476.00,173.07 L476.75,173.41 L477.50,173.75 L478.25,174.10 L479.00,174.45 L479.75,174.80 L480.50,175.17 L481.25,175.54 L482.00,175.93 L482.75,176.33 L483.50,176.75 L484.25,177.19 L485.00,177.65 L485.75,178.12 L486.50,178.60 L487.25,179.09 L488.00,179.59 L488.75,180.08 L489.50,180.58 L490.25,181.06 L491.00,181.54 L491.75,182.00 L492.50,182.46 L493.25,182.91 L494.00,183.36 L494.75,183.79 L495.50,184.23 L496.25,184.66 L497.00,185.08 L497.75,185.51 L498.50,185.94 L499.25,186.37 L500.00,186.81 L500.75,187.26 L501.50,187.72 L502.25,188.20 L503.00,188.70 L503.75,189.22 L504.50,189.75 L505.25,190.30 L506.00,190.84 L506.75,191.38 L507.50,191.91 L508.25,192.42 L509.00,192.90 L509.75,193.35 L510.50,193.76 L511.25,194.15 L512.00,194.52 L512.75,194.87 L513.50,195.23 L514.25,195.59 L515.00,195.97 L515.75,196.36 L516.50,196.79 L517.25,197.24 L518.00,197.72 L518.75,198.23 L519.50,198.76 L520.25,199.30 L521.00,199.86 L521.75,200.42 L522.50,201.00 L523.25,201.58 L524.00,202.16 L524.75,202.73 L525.50,203.29 L526.25,203.84 L527.00,204.36 L527.75,204.85 L528.50,205.31 L529.25,205.74 L530.00,206.12 L530.75,206.48 L531.50,206.82 L532.25,207.15 L533.00,207.49 L533.75,207.83 L534.50,208.20 L535.25,208.60 L536.00,209.04 L536.75,209.53 L537.50,210.04 L538.25,210.58 L539.00,211.14 L539.75,211.70 L540.50,212.26 L541.25,212.81 L542.00,213.33 L542.75,213.83 L543.50,214.30 L544.25,214.75 L545.00,215.17 L545.75,215.59 L546.50,216.00 L547.25,216.40 L548.00,216.80 L548.75,217.21 L549.50,217.62 L550.25,218.03 L551.00,218.45 L551.75,218.88 L552.50,219.31 L553.25,219.74 L554.00,220.17 L554.75,220.61 L555.50,221.05 L556.25,221.49 L557.00,221.93 L557.75,222.38 L558.50,222.82 L559.25,223.27 L560.00,223.72 L560.75,224.17 L561.50,224.62 L562.25,225.07 L563.00,225.52 L563.75,225.97 L564.50,226.42 L565.25,226.87 L566.00,227.32 L566.75,227.77 L567.50,228.21 L568.25,228.66 L569.00,229.10 L569.75,229.55 L570.50,229.99 L571.25,230.43 L572.00,230.87 L572.75,231.30 L573.50,231.74 L574.25,232.17 L575.00,232.61 L575.75,233.05 L576.50,233.50 L577.25,233.95 L578.00,234.40 L578.75,234.87 L579.50,235.35 L580.25,235.83 L581.00,236.34 L581.75,236.85 L582.50,237.37 L583.25,237.90 L584.00,238.43 L584.75,238.97 L585.50,239.50 L586.25,240.03 L587.00,240.55 L587.75,241.07 L588.50,241.57 L589.25,242.06 L590.00,242.53 L590.75,243.00 L591.50,243.46 L592.25,243.90 L593.00,244.35 L593.75,244.79 L594.50,245.23 L595.25,245.67 L596.00,246.12 L596.75,246.57 L597.50,247.03 L598.25,247.49 L599.00,247.96 L599.75,248.44 L600.50,248.92 L601.25,249.41 L602.00,249.90 L602.75,250.39 L603.50,250.88 L604.25,251.37 L605.00,251.87 L605.75,252.36 L606.50,252.85 L607.25,253.35 L608.00,253.84 L608.75,254.33 L609.50,254.83 L610.25,255.33 L611.00,255.83 L611.75,256.33 L612.50,256.84 L613.25,257.34 L614.00,257.86 L614.75,258.37 L615.50,258.89 L616.25,259.42 L617.00,259.94 L617.75,260.47 L618.50,261.01 L619.25,261.54 L620.00,262.08 L620.75,262.61 L621.50,263.14 L622.25,263.67 L623.00,264.20 L623.75,264.72 L624.50,265.23 L625.25,265.74 L626.00,266.24 L626.75,266.73 L627.50,267.21 L628.25,267.69 L629.00,268.15 L629.75,268.61 L630.50,269.06 L631.25,269.51 L632.00,269.96 L632.75,270.40 L633.50,270.84 L634.25,271.28 L635.00,271.72 L635.75,272.16 L636.50,272.60 L637.25,273.05 L638.00,273.50 L638.75,273.96 L639.50,274.41 L640.25,274.88 L641.00,275.34 L641.75,275.80 L642.50,276.26 L643.25,276.72 L644.00,277.18 L644.75,277.63 L645.50,278.08 L646.25,278.52 L647.00,278.96 L647.75,279.39 L648.50,279.81 L649.25,280.23 L650.00,280.63 L650.75,281.04 L651.50,281.44 L652.25,281.85 L653.00,282.26 L653.75,282.68 L654.50,283.11 L655.25,283.55 L656.00,284.01 L656.75,284.49 L657.50,284.98 L658.25,285.50 L659.00,286.05 L659.75,286.62 L660.50,287.22 L661.25,287.83 L662.00,288.45 L662.75,289.06 L663.50,289.66 L664.25,290.24 L665.00,290.79 L665.75,291.30 L666.50,291.76 L667.25,292.17 L668.00,292.51" stroke="#000" stroke-width="3.3" fill="none" stroke-linejoin="round"/>
</g>
<g fill="none">
<path d="M79.0,410.0 H669.0 M80.0,12.5 V411.0" stroke="#8e8e8e" stroke-width="2"/>
<path d="M80.0,12.5 H669.0" stroke="#555" stroke-width="1"/>
<path d="M668.5,12.0 V411.0" stroke="#666" stroke-width="1"/>
<g stroke="#4a4a4a" stroke-width="1"><line x1="227.5" y1="410.0" x2="227.5" y2="404.0"/><line x1="227.5" y1="12.5" x2="227.5" y2="18.5"/><line x1="374.5" y1="410.0" x2="374.5" y2="404.0"/><line x1="374.5" y1="12.5" x2="374.5" y2="18.5"/><line x1="521.5" y1="410.0" x2="521.5" y2="404.0"/><line x1="521.5" y1="12.5" x2="521.5" y2="18.5"/><line x1="80.0" y1="277.49999999999994" x2="86.0" y2="277.49999999999994"/><line x1="668.5" y1="277.49999999999994" x2="662.5" y2="277.49999999999994"/><line x1="80.0" y1="145.0000000000001" x2="86.0" y2="145.0000000000001"/><line x1="668.5" y1="145.0000000000001" x2="662.5" y2="145.0000000000001"/></g></g>

<rect x="87.5" y="267.5" width="140" height="136" fill="#fff" stroke="#4e4e4e" stroke-width="1"/>
<g stroke-width="3.2" fill="none">
<path d="M94.9,287 H103.8 M111.9,287 H120.7 M128.9,287 H136.9" stroke="#CA3812"/>
<path d="M101.7,320.5 H110 M121.7,320.5 H130.5" stroke="#1672B4"/>
<path d="M94.4,320.5 H96 M115.2,320.5 H116.8 M135.7,320.5 H137.3" stroke="#1672B4" stroke-width="2.6"/>
<path d="M94.9,354.5 H137" stroke="#888" stroke-width="2.8" stroke-dasharray="1.1 5.3"/>
<path d="M95.4,386 H136.3" stroke="#000" stroke-width="3.4"/>
</g>
<rect x="142.6" y="280.2" width="1.6" height="16.8" fill="#1a1a1a"/><path transform="translate(0,0)" d="M148.2,286.3 V299.6 Q148.1,300.9 147.5,301.1 M148.2,291.6 C148.2,295.6 149.9,297 151.7,297 C153.6,297 155.1,295.4 155.1,292.2 M155.1,286.3 V295.4 C155.1,296.5 155.9,297 157.1,296.7" stroke="#1a1a1a" stroke-width="1.55" fill="none"/><rect x="161.5" y="280.2" width="1.6" height="16.8" fill="#1a1a1a"/><text x="165" y="285.6" style="font-size:15.5px">2</text><text x="174.3" y="298.6">=</text><text x="187.45" y="297">0.2</text><rect x="142.6" y="313.7" width="1.6" height="16.8" fill="#1a1a1a"/><path transform="translate(0,33.5)" d="M148.2,286.3 V299.6 Q148.1,300.9 147.5,301.1 M148.2,291.6 C148.2,295.6 149.9,297 151.7,297 C153.6,297 155.1,295.4 155.1,292.2 M155.1,286.3 V295.4 C155.1,296.5 155.9,297 157.1,296.7" stroke="#1a1a1a" stroke-width="1.55" fill="none"/><rect x="161.5" y="313.7" width="1.6" height="16.8" fill="#1a1a1a"/><text x="165" y="319.1" style="font-size:15.5px">2</text><text x="174.3" y="332.1">=</text><text x="187.45" y="330.5">0.5</text><rect x="142.6" y="347.7" width="1.6" height="16.8" fill="#1a1a1a"/><path transform="translate(0,67.5)" d="M148.2,286.3 V299.6 Q148.1,300.9 147.5,301.1 M148.2,291.6 C148.2,295.6 149.9,297 151.7,297 C153.6,297 155.1,295.4 155.1,292.2 M155.1,286.3 V295.4 C155.1,296.5 155.9,297 157.1,296.7" stroke="#1a1a1a" stroke-width="1.55" fill="none"/><rect x="161.5" y="347.7" width="1.6" height="16.8" fill="#1a1a1a"/><text x="165" y="353.1" style="font-size:15.5px">2</text><text x="174.3" y="366.1">=</text><text x="187.45" y="364.5">0.8</text><text x="140.6" y="394.6">average</text>
<path transform="translate(63.69,20.80) scale(22.5)" d="M0.362,0 L0.362,-0.688 L0.295,-0.688 C0.277,-0.630 0.217,-0.600 0.102,-0.598 L0.102,-0.512 C0.182,-0.512 0.242,-0.530 0.277,-0.560 L0.277,0 Z" fill="#1a1a1a"/><text x="32.41" y="153.30">0</text><text x="44.92" y="153.30">.</text><text x="51.18" y="153.30">9</text><text x="63.69" y="153.30">5</text><text x="44.92" y="285.80">0</text><text x="57.44" y="285.80">.</text><text x="63.69" y="285.80">9</text><text x="32.41" y="418.30">0</text><text x="44.92" y="418.30">.</text><text x="51.18" y="418.30">8</text><text x="63.69" y="418.30">5</text>
<text x="73.95" y="435.20">0</text><path transform="translate(214.81,435.20) scale(22.5)" d="M0.362,0 L0.362,-0.688 L0.295,-0.688 C0.277,-0.630 0.217,-0.600 0.102,-0.598 L0.102,-0.512 C0.182,-0.512 0.242,-0.530 0.277,-0.560 L0.277,0 Z" fill="#1a1a1a"/><text x="227.32" y="435.20">0</text><text x="361.94" y="435.20">2</text><text x="374.45" y="435.20">0</text><text x="509.07" y="435.20">3</text><text x="521.58" y="435.20">0</text><text x="656.19" y="435.20">4</text><text x="668.70" y="435.20">0</text>
<text x="364.2" y="458.3" style="font-family:Liberation Serif;font-size:24px">ω</text><text x="378.6" y="458.3">t</text>
<text transform="translate(21,210.6) rotate(-90)" text-anchor="middle" style="font-size:23.5px">F</text>
</g></svg>
</body></html>
